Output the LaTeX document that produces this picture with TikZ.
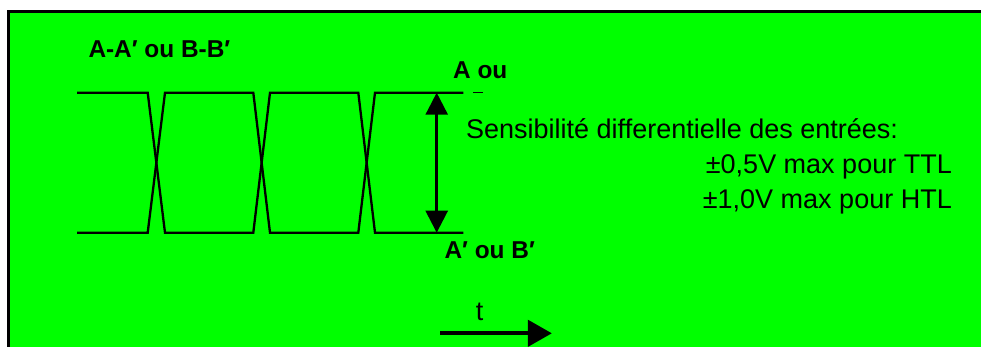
\documentclass[tikz,border=0pt]{standalone}
\usepackage{fontspec}
\setmainfont{Liberation Sans}
\usetikzlibrary{arrows.meta}
\definecolor{bggreen}{RGB}{0,255,0}
\begin{document}
\begin{tikzpicture}[x=1pt,y=-1pt,
  lbl/.style={inner sep=0pt,font=\fontsize{27}{32}\selectfont},
  blbl/.style={inner sep=0pt,font=\fontsize{24.4}{30}\selectfont\bfseries},
  wave/.style={line width=2.3pt,line join=miter},
  dimarrow/.style={line width=2.6pt,{Triangle[length=22pt,width=22pt]}-{Triangle[length=22pt,width=22pt]}},
  tarrow/.style={line width=4.3pt,-{Triangle[length=24pt,width=26pt]}}]
\useasboundingbox (0,0) rectangle (981,347);
\fill[bggreen] (8.7,11.3) rectangle (981,347);
\draw[line width=2.7pt] (8.7,347) -- (8.7,11.3) -- (981,11.3);
% waveforms
\draw[wave] (77,92.7) -- (147.7,92.7) -- (165,232.7) -- (253.3,232.7) -- (270,92.7) -- (358.3,92.7) -- (375,232.7) -- (463.3,232.7);
\draw[wave] (77,232.7) -- (147.7,232.7) -- (165,92.7) -- (253.3,92.7) -- (270,232.7) -- (358.3,232.7) -- (375,92.7) -- (463.3,92.7);
\draw[line width=1.3pt] (473,92.3) -- (483,92.3);
% dimension arrow
\coordinate (hi) at (436.7,92.7);
\coordinate (lo) at (436.7,232.7);
\draw[dimarrow] (hi) -- (lo);
% labels
\node[blbl,anchor=base west] (title) at (88.3,58) {A-A′ ou B-B′};
\node[blbl,anchor=base west] (aou) at (453,78.5) {A ou};
\node[blbl,anchor=base west] (apou) at (444.4,258.3) {A′ ou B′};
\node[lbl,anchor=base west] (sens) at (466,138.3) {Sensibilité differentielle des entrées:};
\node[lbl,anchor=base east] (ttl) at (952,174) {±0,5V max pour TTL};
\node[lbl,anchor=base east] (htl) at (952,208.3) {±1,0V max pour HTL};
% time arrow
\node[lbl,anchor=base] (t) at (479.5,320) {t};
\coordinate (t0) at (440,333.3);
\coordinate (t1) at (551.9,333.3);
\draw[tarrow] (t0) -- (t1);
\end{tikzpicture}
\end{document}
